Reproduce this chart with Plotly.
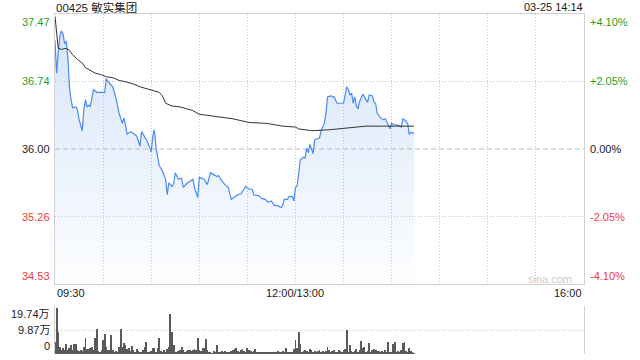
import plotly.graph_objects as go

# ---------------- data ----------------
title_text = "00425 敏实集团"
stamp_text = "03-25 14:14"
prev_close = 36.00

price_min = [0, 1, 2, 3, 4, 5, 6, 7, 8, 9, 10, 11, 13, 14, 15, 17, 18, 19, 20, 21,
             22, 23, 24, 26, 28, 31, 32, 33, 35, 36, 38, 40, 42, 43, 44, 45, 47, 49, 51, 53,
             54, 55, 57, 59, 60, 61, 62, 63, 65, 67, 69, 70, 71, 73, 74, 75, 77, 79, 80, 82,
             84, 86, 87, 89, 90, 93, 95, 97, 99, 101, 102, 104, 106, 108, 110, 112, 114, 116, 119, 121,
             123, 124, 127, 129, 131, 133, 135, 137, 139, 141, 142, 143, 145, 146, 148, 149, 150, 151, 152, 153,
             155, 156, 157, 158, 159, 161, 162, 163, 165, 166, 168, 169, 170, 172, 174, 176, 178, 180, 182, 183,
             184, 185, 186, 187, 188, 189, 190, 191, 192, 193, 195, 196, 198, 199, 200, 201, 203, 205, 206, 208,
             209, 210, 212, 214, 216, 217, 218, 220, 221, 222, 224]
price_val = [37.19, 36.83, 37.05, 37.23, 37.29, 37.26, 37.15, 37.18, 37.01, 36.68, 36.54, 36.45, 36.46, 36.43, 36.32, 36.20, 36.43, 36.54, 36.46, 36.48,
             36.46, 36.54, 36.65, 36.62, 36.62, 36.62, 36.77, 36.74, 36.70, 36.68, 36.56, 36.39, 36.28, 36.34, 36.26, 36.16, 36.19, 36.17, 36.14, 36.03,
             36.19, 36.16, 36.10, 36.02, 35.97, 36.14, 36.21, 36.02, 35.82, 35.76, 35.67, 35.50, 35.63, 35.59, 35.62, 35.74, 35.67, 35.68, 35.58, 35.62,
             35.65, 35.67, 35.58, 35.47, 35.69, 35.67, 35.61, 35.74, 35.72, 35.70, 35.71, 35.65, 35.61, 35.58, 35.45, 35.48, 35.50, 35.51, 35.59, 35.56,
             35.56, 35.50, 35.49, 35.46, 35.45, 35.42, 35.43, 35.38, 35.38, 35.36, 35.38, 35.45, 35.45, 35.48, 35.48, 35.43, 35.58, 35.59, 35.77, 35.88,
             35.91, 35.90, 36.01, 35.96, 36.05, 35.95, 36.10, 36.11, 36.12, 36.20, 36.28, 36.39, 36.57, 36.58, 36.57, 36.50, 36.50, 36.50, 36.68, 36.65,
             36.59, 36.61, 36.50, 36.57, 36.47, 36.44, 36.52, 36.56, 36.60, 36.57, 36.51, 36.59, 36.58, 36.51, 36.50, 36.39, 36.34, 36.32, 36.33, 36.26,
             36.22, 36.28, 36.26, 36.26, 36.24, 36.33, 36.32, 36.28, 36.16, 36.18, 36.17]

avg_min = [0, 1, 2, 4, 7, 9, 11, 14, 17, 19, 22, 25, 29, 32, 36, 40, 45, 49, 53, 57,
           61, 65, 67, 69, 73, 78, 82, 86, 90, 95, 99, 103, 111, 121, 132, 142, 150, 152, 158, 160,
           171, 182, 194, 207, 224]
avg_val = [37.45, 37.30, 37.10, 37.09, 37.10, 37.08, 37.03, 36.98, 36.94, 36.89, 36.86, 36.83, 36.81, 36.79, 36.78, 36.75, 36.73, 36.71, 36.68, 36.66,
           36.64, 36.62, 36.58, 36.50, 36.47, 36.46, 36.44, 36.42, 36.38, 36.37, 36.36, 36.35, 36.33, 36.29, 36.28, 36.25, 36.24, 36.22, 36.21, 36.20,
           36.21, 36.23, 36.25, 36.25, 36.25]

# volume per minute, in 万 shares
volume = [5.1, 19.0, 9.2, 3.0, 1.6, 2.3, 1.6, 4.0, 1.6, 2.3,
          3.7, 1.6, 4.0, 4.0, 1.6, 1.2, 1.6, 1.2, 3.0, 6.7,
          1.9, 2.1, 2.3, 3.0, 1.6, 6.4, 10.3, 1.2, 1.0, 1.6,
          5.8, 8.1, 3.0, 1.6, 1.6, 7.8, 1.6, 1.0, 1.2, 1.0,
          3.0, 10.3, 3.0, 4.4, 3.7, 1.9, 2.3, 1.2, 3.3, 1.6,
          1.0, 1.9, 1.2, 1.0, 1.0, 1.6, 3.0, 5.1, 1.0, 1.0,
          1.2, 2.3, 2.3, 1.0, 2.3, 6.7, 1.2, 1.0, 1.6, 1.0,
          2.1, 3.0, 16.3, 8.9, 3.7, 1.0, 1.0, 1.2, 1.6, 3.0,
          1.6, 1.0, 1.2, 1.6, 1.6, 1.2, 1.6, 2.1, 1.6, 6.4,
          1.6, 1.2, 2.3, 2.6, 6.2, 1.6, 1.0, 1.0, 0.3, 1.2,
          1.0,
          3.7, 1.0, 1.0, 1.2, 1.0, 1.2, 1.0, 0.5, 1.0, 1.2,
          1.6, 1.9, 2.6, 1.2, 1.0, 1.6, 2.1, 1.2, 1.0, 2.6,
          1.6, 1.2, 1.0, 1.2, 1.9, 0.5, 0.5, 1.0, 0.5, 0.5,
          0.5, 1.0, 0.5, 0.5, 1.0, 0.5, 1.0, 0.5, 1.2, 1.0,
          0.5, 1.2, 0.5, 2.3, 1.0, 0.5, 0.5, 1.0, 1.9,
          5.8, 2.3, 8.9, 4.0, 1.0, 1.2,
          1.6, 1.2, 1.0, 1.9, 1.6, 1.0, 1.2, 1.0, 1.2, 1.6,
          1.0, 1.2, 0.5, 1.2, 3.0, 1.6, 1.0, 1.2, 1.6, 1.0,
          0.5, 1.6, 1.2, 1.0, 1.6, 2.1,
          9.9, 1.0, 3.7, 1.2, 1.0,
          1.2, 1.9, 1.0, 1.6, 5.3, 2.3,
          3.0, 1.0, 1.2, 4.4, 1.0,
          1.6, 2.1, 1.6, 1.2, 1.2, 1.0, 1.2, 0.5, 1.6, 1.0,
          5.1, 1.0, 1.0, 4.0, 4.8, 1.0, 1.2, 1.0, 1.6, 4.4,
          4.8, 1.2, 1.0, 2.6, 1.2, 0.5, 0.3]
vol_min = list(range(len(volume)))

price_ticks = [37.47, 36.74, 36.00, 35.26, 34.53]
price_tick_text = ["37.47", "36.74", "36.00", "35.26", "34.53"]
pct_tick_text = ["+4.10%", "+2.05%", "0.00%", "-2.05%", "-4.10%"]
vol_ticks = [19.74, 9.87, 0]
vol_tick_text = ["19.74万", "9.87万", "0"]
time_ticks = [0, 150, 330]
time_tick_text = ["09:30", "12:00/13:00", "16:00"]
grid_minutes = [30, 60, 90, 120, 150, 180, 210, 240, 270, 300]

# ---------------- styling ----------------
W, H = 640, 360
L, R = 55, 584
MAIN_TOP, MAIN_BOT = 14, 284
VOL_TOP, VOL_BOT = 306, 354
FONT = "Liberation Sans, Arial, Noto Sans CJK SC, sans-serif"
GREEN, RED, BLACK = "#1f9e1f", "#f03c3c", "#222222"
BORDER = "#d2d2d2"
GRID = "#c4c4c4"
GRID_DASH = "1px,2px"

def px_x(v):
    return v / W

def px_y(v):
    return 1 - v / H

pmin = prev_close * (1 - 0.041)
pmax = prev_close * (1 + 0.041)

fig = go.Figure()

fig.add_trace(go.Scatter(
    x=price_min, y=price_val, mode="lines",
    line=dict(color="#4a8bf0", width=1.2),
    fill="tozeroy",
    fillgradient=dict(type="vertical",
                      colorscale=[[0, "rgba(170,200,245,0.02)"], [1, "rgba(170,200,245,0.5)"]],
                      start=pmin, stop=pmax),
    hoverinfo="skip", showlegend=False, xaxis="x", yaxis="y"))

fig.add_trace(go.Scatter(
    x=avg_min, y=avg_val, mode="lines",
    line=dict(color="#333333", width=1),
    hoverinfo="skip", showlegend=False, xaxis="x", yaxis="y"))

fig.add_trace(go.Bar(
    x=vol_min, y=volume, width=0.55,
    marker=dict(color="#5a5a5a", line=dict(width=0)),
    hoverinfo="skip", showlegend=False, xaxis="x2", yaxis="y2"))

fig.update_layout(
    width=W, height=H,
    margin=dict(l=0, r=0, t=0, b=0),
    paper_bgcolor="white", plot_bgcolor="white",
    font=dict(family=FONT, size=11, color=BLACK),
    xaxis=dict(domain=[px_x(L), px_x(R)], range=[0, 330], anchor="y",
               tickvals=grid_minutes, showticklabels=False, ticks="",
               showgrid=True, gridcolor=GRID, griddash=GRID_DASH, gridwidth=1,
               showline=True, linecolor=BORDER, linewidth=1, mirror=True, zeroline=False),
    yaxis=dict(domain=[px_y(MAIN_BOT), px_y(MAIN_TOP)], range=[pmin, pmax], anchor="x",
               tickvals=[price_ticks[1], price_ticks[3]], showticklabels=False, ticks="",
               showgrid=True, gridcolor=GRID, griddash=GRID_DASH, gridwidth=1,
               showline=True, linecolor=BORDER, linewidth=1, mirror=True, zeroline=False),
    xaxis2=dict(domain=[px_x(L), px_x(R)], range=[0, 330], anchor="y2",
                showticklabels=False, ticks="", showgrid=False, showline=False, zeroline=False),
    yaxis2=dict(domain=[px_y(VOL_BOT), px_y(VOL_TOP)], range=[0, vol_ticks[0]], anchor="x2",
                tickvals=vol_ticks, showticklabels=False, ticks="",
                showgrid=True, gridcolor=GRID, griddash=GRID_DASH, gridwidth=1,
                showline=True, linecolor=BORDER, linewidth=1, mirror=True, zeroline=False),
    bargap=0,
)

# previous close dashed line
fig.add_shape(type="line", xref="x", yref="y", x0=0, x1=330, y0=prev_close, y1=prev_close,
              line=dict(color="#b8b8b8", width=1, dash="5px,3px"), layer="below")

anns = []
colors = [GREEN, GREEN, BLACK, RED, RED]
anchors = ["top", "middle", "middle", "middle", "bottom"]
yvals = [pmax, price_ticks[1], price_ticks[2], price_ticks[3], pmin]
for yv, t, p, c, a in zip(yvals, price_tick_text, pct_tick_text, colors, anchors):
    anns.append(dict(xref="paper", yref="y", x=px_x(L - 3), y=yv, text=t, showarrow=False,
                     xanchor="right", yanchor=a, font=dict(size=11, color=c, family=FONT)))
    anns.append(dict(xref="paper", yref="y", x=px_x(R + 4), y=yv, text=p, showarrow=False,
                     xanchor="left", yanchor=a, font=dict(size=11, color=c, family=FONT)))

for yv, t, a in zip(vol_ticks, vol_tick_text, ["top", "middle", "bottom"]):
    anns.append(dict(xref="paper", yref="y2", x=px_x(L - 3), y=yv, text=t, showarrow=False,
                     xanchor="right", yanchor=a, font=dict(size=11, color=BLACK, family=FONT)))

for xv, t, a in zip(time_ticks, time_tick_text, ["left", "center", "right"]):
    anns.append(dict(xref="x", yref="paper", x=xv, y=px_y(293), text=t, showarrow=False,
                     xanchor=a, yanchor="middle", font=dict(size=11, color=BLACK, family=FONT)))

anns.append(dict(xref="paper", yref="paper", x=px_x(L - 1), y=px_y(7), text=title_text,
                 showarrow=False, xanchor="left", yanchor="middle",
                 font=dict(size=11.5, color=BLACK, family=FONT)))
anns.append(dict(xref="paper", yref="paper", x=px_x(R + 1), y=px_y(7), text=stamp_text,
                 showarrow=False, xanchor="right", yanchor="middle",
                 font=dict(size=11, color=BLACK, family=FONT)))
anns.append(dict(xref="paper", yref="paper", x=px_x(574), y=px_y(279), text="sina.com",
                 showarrow=False, xanchor="right", yanchor="middle",
                 font=dict(size=11, color="#cccccc", family=FONT)))

fig.update_layout(annotations=anns)

fig.write_html("out.html")
